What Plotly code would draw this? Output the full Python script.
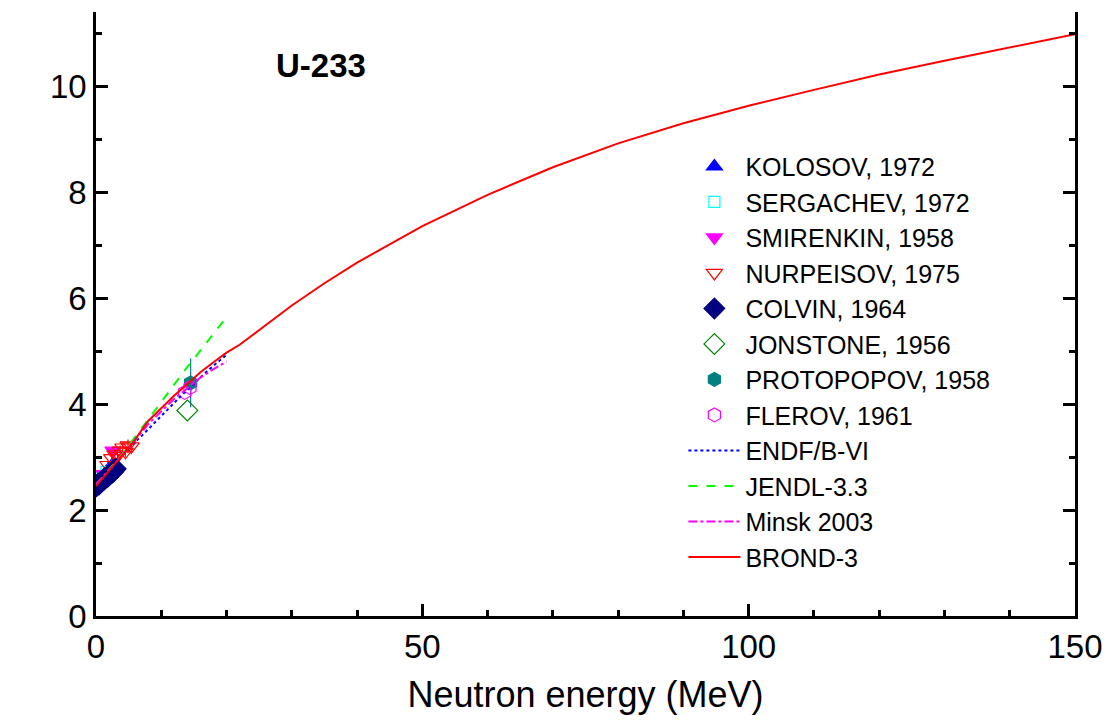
import plotly.graph_objects as go

# ---------------- data ----------------
kolosov_e = [0.5, 1.0, 1.5, 2.0, 2.5]
kolosov_v = [2.55, 2.63, 2.70, 2.78, 2.85]

sergachev_e = [0.8, 1.6]
sergachev_v = [2.60, 2.72]

smirenkin_e = [1.2, 2.6]
smirenkin_v = [2.68, 3.12]

nurpeisov_e = [1.8, 2.4, 2.9, 3.3, 3.7, 4.1, 4.5, 4.9, 5.4]
nurpeisov_v = [2.85, 2.98, 3.05, 3.02, 3.12, 3.18, 3.10, 3.22, 3.20]
nurpeisov_err = [0.08, 0.08, 0.09, 0.09, 0.10, 0.10, 0.10, 0.11, 0.11]

colvin_e = [0.05, 0.15, 0.3, 0.45, 0.6, 0.8, 1.0, 1.2, 1.4, 1.6, 1.8, 2.0, 2.2, 2.4, 2.6, 2.8, 3.0]
colvin_v = [2.45, 2.47, 2.49, 2.48, 2.52, 2.53, 2.56, 2.57, 2.60, 2.62, 2.63, 2.66, 2.68, 2.70, 2.72, 2.75, 2.78]

jonstone_e = [14.0]
jonstone_v = [3.88]

protopopov_e = [14.5]
protopopov_v = [4.40]
protopopov_err = [0.46]

flerov_e = [13.6, 14.4]
flerov_v = [4.22, 4.31]

endf_e = [0, 1, 2, 3, 5, 7, 9, 11, 13, 15, 17, 20]
endf_v = [2.48, 2.62, 2.76, 2.90, 3.17, 3.40, 3.66, 3.90, 4.15, 4.38, 4.62, 4.93]

jendl_e = [0, 2, 4, 6, 8, 11, 14, 17, 20]
jendl_v = [2.48, 2.76, 3.05, 3.38, 3.71, 4.22, 4.70, 5.17, 5.64]

minsk_e = [0, 2, 5, 8, 10, 12, 14, 16, 18, 20]
minsk_v = [2.48, 2.76, 3.17, 3.62, 3.86, 4.10, 4.30, 4.50, 4.66, 4.80]

brond_e = [0, 1, 2, 3, 5, 7, 8, 10, 12, 14, 16, 18, 20, 22, 25, 30, 35, 40, 50, 60, 70,
           80, 90, 100, 110, 120, 130, 140, 150]
brond_v = [2.45, 2.60, 2.74, 2.89, 3.16, 3.52, 3.68, 3.92, 4.16, 4.38, 4.60, 4.79, 4.97, 5.12,
           5.40, 5.86, 6.28, 6.67, 7.36, 7.95, 8.47, 8.92, 9.30, 9.63, 9.93, 10.22, 10.48, 10.73, 10.98]

# ---------------- figure ----------------
fig = go.Figure()

def markers(name, x, y, symbol, color, size=13, err=None, errcolor=None, lw=1.2):
    kw = {}
    if err is not None:
        kw["error_y"] = dict(type="data", array=err, visible=True, color=errcolor or color,
                             thickness=1.2, width=0)
    fig.add_trace(go.Scatter(x=x, y=y, mode="markers", name=name,
                             marker=dict(symbol=symbol, color=color, size=size,
                                         line=dict(color=color, width=lw)),
                             **kw))

markers("KOLOSOV, 1972", kolosov_e, kolosov_v, "triangle-up", "#0000ff", 14)
markers("SERGACHEV, 1972", sergachev_e, sergachev_v, "square-open", "#00ffff", 11)
markers("SMIRENKIN, 1958", smirenkin_e, smirenkin_v, "triangle-down", "#ff00ff", 14)
markers("NURPEISOV, 1975", nurpeisov_e, nurpeisov_v, "triangle-down-open", "#ff0000", 14,
        err=nurpeisov_err)
markers("COLVIN, 1964", colvin_e, colvin_v, "diamond", "#000080", 16)
markers("JONSTONE, 1956", jonstone_e, jonstone_v, "diamond-open", "#008000", 16)
markers("PROTOPOPOV, 1958", protopopov_e, protopopov_v, "hexagon", "#008080", 14,
        err=protopopov_err)
markers("FLEROV, 1961", flerov_e, flerov_v, "hexagon-open", "#ff00ff", 14)

fig.add_trace(go.Scatter(x=endf_e, y=endf_v, mode="lines", name="ENDF/B-VI",
                         line=dict(color="#0000ff", width=2, dash="dot")))
fig.add_trace(go.Scatter(x=jendl_e, y=jendl_v, mode="lines", name="JENDL-3.3",
                         line=dict(color="#00ff00", width=2, dash="dash")))
fig.add_trace(go.Scatter(x=minsk_e, y=minsk_v, mode="lines", name="Minsk 2003",
                         line=dict(color="#ff00ff", width=2, dash="dashdot")))
fig.add_trace(go.Scatter(x=brond_e, y=brond_v, mode="lines", name="BROND-3",
                         line=dict(color="#ff0000", width=2)))

font_family = "Liberation Sans, Arial, sans-serif"

fig.update_layout(
    width=1115, height=724,
    margin=dict(l=96, r=40, t=12, b=108, pad=0),
    paper_bgcolor="white", plot_bgcolor="white",
    font=dict(family=font_family, color="black", size=30),
    showlegend=True,
    legend=dict(x=0.600, y=0.782, xanchor="left", yanchor="top",
                bgcolor="rgba(0,0,0,0)", borderwidth=0,
                font=dict(size=25, family=font_family), itemwidth=52,
                tracegroupgap=0),
    xaxis=dict(range=[0, 150], tickmode="array", tickvals=[0, 50, 100, 150],
               ticktext=["0", "50", "100", "150"],
               showgrid=False, zeroline=False, showline=True, linecolor="black",
               linewidth=2.5, mirror=False, ticks="inside", ticklen=12, tickwidth=2.5,
               tickcolor="black", tickfont=dict(size=33),
               minor=dict(dtick=10, tick0=0, ticks="inside", ticklen=6, tickwidth=2.5,
                          tickcolor="black"),
               title=dict(text="Neutron energy (MeV)", font=dict(size=36), standoff=18)),
    yaxis=dict(range=[0, 11.4], tickmode="array", tickvals=[0, 2, 4, 6, 8, 10],
               ticktext=["0", "2", "4", "6", "8", "10"],
               showgrid=False, zeroline=False, showline=True, linecolor="black",
               linewidth=2.5, mirror="ticks", ticks="inside", ticklen=12, tickwidth=2.5,
               tickcolor="black", tickfont=dict(size=33),
               minor=dict(dtick=1, tick0=0, ticks="inside", ticklen=6, tickwidth=2.5,
                          tickcolor="black")),
)

fig.add_annotation(text="<b>U-233</b>", x=0.23, y=0.912, xref="paper", yref="paper",
                   showarrow=False, font=dict(size=33, family=font_family, color="black"),
                   xanchor="center", yanchor="middle")

fig.write_html("out.html")
